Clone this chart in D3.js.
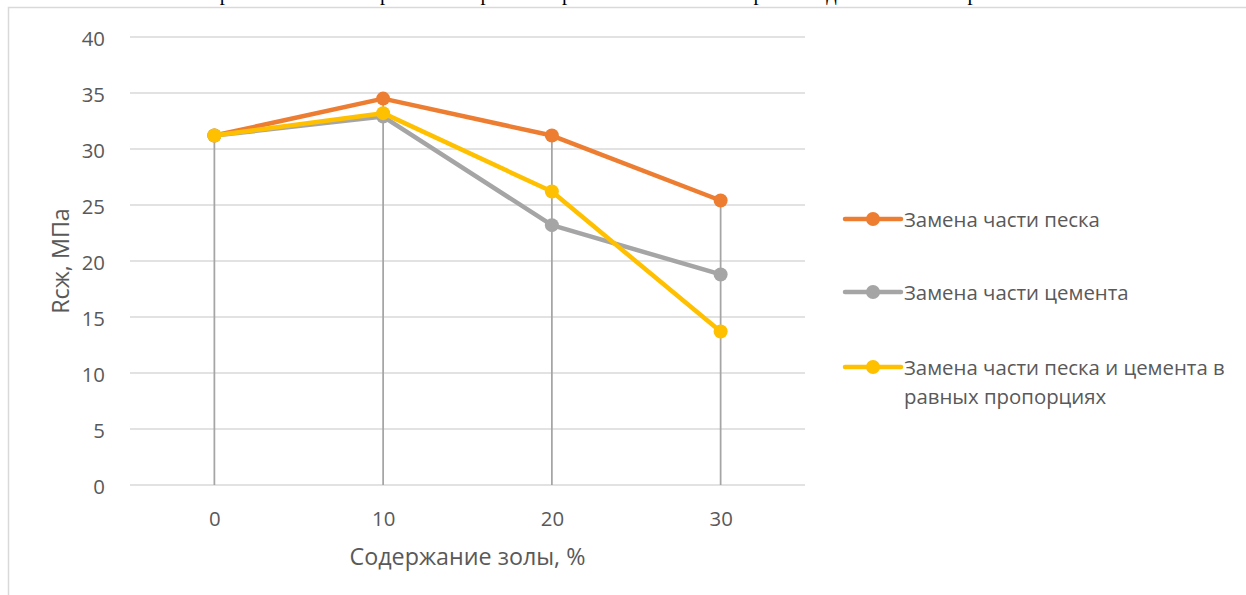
<!DOCTYPE html>
<html lang="ru">
<head>
<meta charset="utf-8">
<script src="https://cdn.jsdelivr.net/npm/d3@7/dist/d3.min.js"></script>
<style>
  html, body { margin: 0; padding: 0; background: #fff; overflow: hidden; }
  svg { display: block; }
  .tick-label, .axis-title, .legend-label {
    font-family: "Open Sans", "Noto Sans", sans-serif;
    fill: #595959;
  }
</style>
</head>
<body>
<svg id="chart" width="1246" height="595"></svg>
<script>
// Ash content, % (category axis)
const categories = [0, 10, 20, 30];

// Compressive strength Rсж, MPa for each replacement scheme
const sandValues = [31.2, 34.5, 31.2, 25.4];
const cementValues = [31.2, 32.9, 23.2, 18.8];
const sandCementValues = [31.2, 33.2, 26.2, 13.7];

const seriesNames = [
  "Замена части песка",
  "Замена части цемента",
  ["Замена части песка и цемента в", "равных пропорциях"]
];

const yTicks = [0, 5, 10, 15, 20, 25, 30, 35, 40];

const xTitle = "Содержание золы, %";
const yTitle = "Rсж, МПа";

// Tail of the document line printed above the chart frame
const leadText = "В итоге прочность бетона при этом возрастает при 10 % золы и затем резко падает особенно при 30 %";

const series = [
  { values: sandValues, color: "#ED7D31" },
  { values: cementValues, color: "#A5A5A5" },
  { values: sandCementValues, color: "#FFC000" }
];

const svg = d3.select("#chart");

// Font sizes derived from the text widths of the layout
function fitSize(str, width, family) {
  const t = svg.append("text").attr("font-family", family).attr("font-size", 20).text(str);
  const w = t.node().getComputedTextLength();
  t.remove();
  return 20 * width / w;
}
const sansFamily = "'Open Sans', 'Noto Sans', sans-serif";
const labelSize = fitSize(seriesNames[0], 196, sansFamily);
const titleSize = fitSize(xTitle, 236, sansFamily);

// Document text line, only its descenders reach below the page top
const lead = svg.append("text")
  .attr("font-family", "'Liberation Serif', 'Times New Roman', serif")
  .attr("font-size", 20)
  .attr("fill", "#000")
  .text(leadText);
{
  const firstR = leadText.indexOf("р");
  const lastR = leadText.lastIndexOf("при") + 1;
  const node = lead.node();
  const cx = i => { const e = node.getExtentOfChar(i); return e.x + e.width / 2; };
  const scale = (973 - 225) / (cx(lastR) - cx(firstR));
  lead.attr("font-size", 20 * scale);
  const shift = 225 - cx(firstR);
  lead.attr("x", shift).attr("y", 0);
}

// Outer chart frame
svg.append("rect")
  .attr("x", 8.5).attr("y", 7.5)
  .attr("width", 1400).attr("height", 800)
  .attr("fill", "#fff")
  .attr("stroke", "#D9D9D9")
  .attr("stroke-width", 1.5);

const plot = { left: 130, right: 805, top: 37, bottom: 485 };

const x = d3.scalePoint()
  .domain(categories)
  .range([plot.left, plot.right])
  .padding(0.5);

const y = d3.scaleLinear()
  .domain([0, 40])
  .range([plot.bottom, plot.top]);

// Horizontal gridlines
svg.append("g")
  .selectAll("line")
  .data(yTicks)
  .join("line")
  .attr("x1", plot.left).attr("x2", plot.right)
  .attr("y1", d => y(d)).attr("y2", d => y(d))
  .attr("stroke", "#D9D9D9")
  .attr("stroke-width", 1.5);

// Y axis tick labels
const yAxis = svg.append("g")
  .attr("transform", `translate(${plot.left},0)`)
  .call(d3.axisLeft(y).tickValues(yTicks).tickSize(0).tickPadding(25).tickFormat(d3.format("d")));
yAxis.select(".domain").remove();
yAxis.selectAll("text")
  .attr("class", "tick-label")
  .attr("font-size", labelSize)
  .attr("dy", null)
  .attr("dominant-baseline", "central");

// X axis tick labels
const xAxis = svg.append("g")
  .attr("transform", `translate(0,${plot.bottom})`)
  .call(d3.axisBottom(x).tickSize(0));
xAxis.select(".domain").remove();
xAxis.selectAll("text")
  .attr("class", "tick-label")
  .attr("font-size", labelSize)
  .attr("y", 33)
  .attr("dy", null)
  .attr("dominant-baseline", "central");

// Drop lines from the highest series value down to the category axis
const maxAt = categories.map((c, i) => d3.max(series, s => s.values[i]));
svg.append("g")
  .selectAll("line")
  .data(categories)
  .join("line")
  .attr("x1", d => x(d)).attr("x2", d => x(d))
  .attr("y1", (d, i) => y(maxAt[i]))
  .attr("y2", y(0))
  .attr("stroke", "#A5A5A5")
  .attr("stroke-width", 1.75);

// Series lines and markers
const line = d3.line()
  .x((d, i) => x(categories[i]))
  .y(d => y(d));

series.forEach(s => {
  const g = svg.append("g");
  g.append("path")
    .attr("d", line(s.values))
    .attr("fill", "none")
    .attr("stroke", s.color)
    .attr("stroke-width", 4.5)
    .attr("stroke-linejoin", "round")
    .attr("stroke-linecap", "round");
  g.selectAll("circle")
    .data(s.values)
    .join("circle")
    .attr("cx", (d, i) => x(categories[i]))
    .attr("cy", d => y(d))
    .attr("r", 7)
    .attr("fill", s.color);
});

// Axis titles
svg.append("text")
  .attr("class", "axis-title")
  .attr("x", (plot.left + plot.right) / 2)
  .attr("y", 556)
  .attr("text-anchor", "middle")
  .attr("dominant-baseline", "central")
  .attr("font-size", titleSize)
  .text(xTitle);

svg.append("text")
  .attr("class", "axis-title")
  .attr("transform", `translate(60,${(plot.top + plot.bottom) / 2}) rotate(-90)`)
  .attr("text-anchor", "middle")
  .attr("dominant-baseline", "central")
  .attr("font-size", titleSize)
  .text(yTitle);

// Legend
const legendY = [219, 292, 367];
const legend = svg.append("g");
series.forEach((s, i) => {
  const g = legend.append("g").attr("transform", `translate(0,${legendY[i]})`);
  g.append("line")
    .attr("x1", 845).attr("x2", 901)
    .attr("stroke", s.color)
    .attr("stroke-width", 4.5)
    .attr("stroke-linecap", "round");
  g.append("circle")
    .attr("cx", 873).attr("r", 7)
    .attr("fill", s.color);
  const lines = Array.isArray(seriesNames[i]) ? seriesNames[i] : [seriesNames[i]];
  const t = g.append("text")
    .attr("class", "legend-label")
    .attr("x", 904)
    .attr("font-size", labelSize)
    .attr("dominant-baseline", "central");
  lines.forEach((l, k) => {
    t.append("tspan").attr("x", 904).attr("y", k * 29).text(l);
  });
});
</script>
</body>
</html>
